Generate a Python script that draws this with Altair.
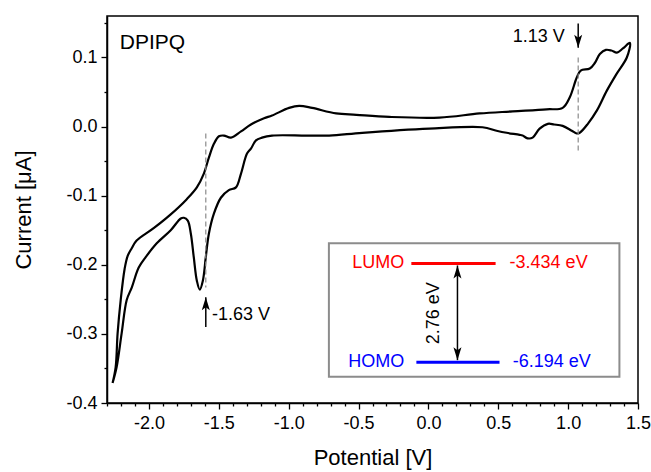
import altair as alt
import pandas as pd

FONT = "Liberation Sans"

# Forward scan: from the cathodic tip up to the anodic tip (potential in V, current in uA)
fwd_v = [-2.260, -2.238, -2.224, -2.202, -2.174, -2.152, -2.123, -2.088, -1.966, -1.844,
         -1.729, -1.657, -1.607, -1.571, -1.535, -1.499, -1.463, -1.413, -1.341, -1.270,
         -1.176, -1.119, -0.997, -0.925, -0.832, -0.660, -0.516, -0.280, 0.079, 0.366,
         0.603, 0.846, 0.961, 1.011, 1.062, 1.090, 1.155, 1.191, 1.227, 1.270,
         1.310, 1.349, 1.392, 1.442]
fwd_i = [-0.371, -0.348, -0.299, -0.251, -0.206, -0.187, -0.176, -0.165, -0.147, -0.127,
         -0.105, -0.088, -0.068, -0.045, -0.025, -0.014, -0.013, -0.016, -0.007, 0.003,
         0.012, 0.016, 0.027, 0.030, 0.027, 0.019, 0.017, 0.014, 0.013, 0.019,
         0.022, 0.025, 0.027, 0.042, 0.071, 0.081, 0.084, 0.092, 0.105, 0.111,
         0.110, 0.107, 0.113, 0.121]

# Reverse scan: back from the anodic tip to the cathodic tip
rev_v = [1.420, 1.349, 1.277, 1.205, 1.141, 1.083, 1.062, 1.026, 0.961, 0.900,
         0.855, 0.796, 0.746, 0.710, 0.674, 0.653, 0.560, 0.488, 0.387, 0.007,
         -0.473, -0.710, -0.875, -1.119, -1.191, -1.234, -1.270, -1.298, -1.341, -1.377,
         -1.428, -1.485, -1.535, -1.571, -1.593, -1.614, -1.636, -1.657, -1.679, -1.700,
         -1.722, -1.750, -1.772, -1.844, -1.944, -2.023, -2.073, -2.123, -2.159, -2.195,
         -2.231, -2.260]
rev_i = [0.100, 0.077, 0.052, 0.023, 0.004, -0.009, -0.010, -0.006, 0.001, 0.003,
         0.004, -0.003, -0.016, -0.017, -0.013, -0.012, -0.009, -0.006, -0.001, -0.003,
         -0.009, -0.013, -0.013, -0.013, -0.016, -0.020, -0.032, -0.039, -0.068, -0.088,
         -0.092, -0.103, -0.126, -0.155, -0.189, -0.223, -0.236, -0.223, -0.189, -0.155,
         -0.136, -0.132, -0.133, -0.150, -0.169, -0.189, -0.204, -0.233, -0.251, -0.299,
         -0.348, -0.371]

# Onset markers: (potential of the dashed guide, top, bottom)
onset_v = [-1.593, 1.072]
onset_top = [-0.010, 0.100]
onset_bottom = [-0.233, -0.035]
onset_labels = ["-1.63 V", "1.13 V"]

# Energy levels in the inset
level_names = ["LUMO", "HOMO"]
level_values = ["-3.434 eV", "-6.194 eV"]
level_colors = ["#ff0000", "#0000ff"]
gap_label = "2.76 eV"

X_DOMAIN = [-2.3, 1.5]
Y_DOMAIN = [-0.4, 0.16]

x_ticks = [round(-2.3 + 0.1 * k, 1) for k in range(39)]
y_ticks = [round(-0.4 + 0.05 * k, 2) for k in range(12)]

x_major = "abs(datum.value*2 - round(datum.value*2)) < 1e-6"
y_major = "abs(datum.value*10 - round(datum.value*10)) < 1e-6"

x_axis = alt.Axis(
    values=x_ticks,
    labelExpr=f"{x_major} ? replace(format(datum.value, '.1f'), '\u2212', '-') : ''",
    tickSize={"condition": {"test": x_major, "value": 6}, "value": 3},
    labelOverlap=False, labelFlush=False, grid=False,
    labelFontSize=18, titleFontSize=22, titlePadding=15, labelPadding=5,
    title="Potential [V]",
)
y_axis = alt.Axis(
    values=y_ticks,
    labelExpr=f"{y_major} ? replace(format(datum.value, '.1f'), '\u2212', '-') : ''",
    tickSize={"condition": {"test": y_major, "value": 6}, "value": 3},
    labelOverlap=False, labelFlush=False, grid=False,
    labelFontSize=18, titleFontSize=22, titlePadding=30, labelPadding=4,
    title="Current [\u03bcA]",
)

xs = alt.Scale(domain=X_DOMAIN, nice=False, zero=False)
ys = alt.Scale(domain=Y_DOMAIN, nice=False, zero=False)


def X(f):
    return alt.X(f, type="quantitative", scale=xs, axis=x_axis)


def Y(f):
    return alt.Y(f, type="quantitative", scale=ys, axis=y_axis)


n_f = len(fwd_v)
cv = pd.DataFrame({
    "x": fwd_v + rev_v,
    "y": fwd_i + rev_i,
    "k": list(range(n_f + len(rev_v))),
})

curve = alt.Chart(cv).mark_line(
    color="black", strokeWidth=2.2, interpolate="catmull-rom"
).encode(x=X("x"), y=Y("y"), order=alt.Order("k:Q"))

guides = pd.DataFrame({"x": onset_v, "y": onset_top, "y2": onset_bottom})
guide_lines = alt.Chart(guides).mark_rule(
    color="#8a8a8a", strokeWidth=1.2, strokeDash=[5, 3]
).encode(x=X("x"), y=Y("y"), y2="y2")

# Arrows pointing at the onset potentials
arrows = pd.DataFrame({
    "x": [onset_v[0], onset_v[1]],
    "tail": [-0.290, 0.149],
    "tip": [-0.247, 0.114],
})
arrow_shafts = alt.Chart(arrows).mark_rule(color="black", strokeWidth=1.5).encode(
    x=X("x"), y=Y("tail"), y2="tip"
)
UP_HEAD = "M0,0 L0.8,2.6 L0,2.0 L-0.8,2.6 Z"
DOWN_HEAD = "M0,0 L0.8,-2.6 L0,-2.0 L-0.8,-2.6 Z"

labels = pd.DataFrame({
    "x": [-1.549, 0.976],
    "y": [-0.273, 0.129],
    "t": onset_labels,
})
onset_text_l = alt.Chart(labels.iloc[[0]]).mark_text(
    align="left", baseline="middle", fontSize=18, font=FONT, color="black"
).encode(x=X("x"), y=Y("y"), text="t:N")
onset_text_r = alt.Chart(labels.iloc[[1]]).mark_text(
    align="right", baseline="middle", fontSize=18, font=FONT, color="black"
).encode(x=X("x"), y=Y("y"), text="t:N")

name_df = pd.DataFrame({"x": [-2.209], "y": [0.121], "t": ["DPIPQ"]})
name_text = alt.Chart(name_df).mark_text(
    align="left", baseline="middle", fontSize=21, font=FONT, color="black"
).encode(x=X("x"), y=Y("y"), text="t:N")

# Inset with the frontier orbital energies
box = pd.DataFrame({"x": [-0.712], "x2": [1.367], "y": [-0.169], "y2": [-0.362]})
inset_box = alt.Chart(box).mark_rect(
    fill="white", stroke="#8c8c8c", strokeWidth=2
).encode(x=X("x"), x2="x2", y=Y("y"), y2="y2")

levels = pd.DataFrame({
    "x": [-0.122, -0.086],
    "x2": [0.481, 0.509],
    "y": [-0.198, -0.341],
    "c": level_colors,
    "name": level_names,
    "val": level_values,
    "nx": [-0.172, -0.172],
    "vx": [0.581, 0.603],
})
level_lines = alt.Chart(levels).mark_rule(strokeWidth=3).encode(
    x=X("x"), x2="x2", y=Y("y"), color=alt.Color("c:N", scale=None)
)
level_names_text = alt.Chart(levels).mark_text(
    align="right", baseline="middle", fontSize=18, font=FONT
).encode(x=X("nx"), y=Y("y"), text="name:N", color=alt.Color("c:N", scale=None))
level_values_text = alt.Chart(levels).mark_text(
    align="left", baseline="middle", fontSize=18, font=FONT
).encode(x=X("vx"), y=Y("y"), text="val:N", color=alt.Color("c:N", scale=None))

gap = pd.DataFrame({"x": [0.208], "top": [-0.201], "bottom": [-0.338]})
gap_shaft = alt.Chart(gap).mark_rule(color="black", strokeWidth=1.5).encode(
    x=X("x"), y=Y("top"), y2="bottom"
)
gap_up = alt.Chart(gap).mark_point(
    shape=UP_HEAD, filled=True, color="black", size=100, opacity=1
).encode(x=X("x"), y=Y("top"))
gap_down = alt.Chart(gap).mark_point(
    shape=DOWN_HEAD, filled=True, color="black", size=100, opacity=1
).encode(x=X("x"), y=Y("bottom"))
gap_df = pd.DataFrame({"x": [0.043], "y": [-0.270], "t": [gap_label]})
gap_text = alt.Chart(gap_df).mark_text(
    align="center", baseline="middle", fontSize=18, font=FONT, angle=270, color="black"
).encode(x=X("x"), y=Y("y"), text="t:N")

onset_up = alt.Chart(arrows.iloc[[0]]).mark_point(
    shape=UP_HEAD, filled=True, color="black", size=100, opacity=1
).encode(x=X("x"), y=Y("tip"))
onset_down = alt.Chart(arrows.iloc[[1]]).mark_point(
    shape=DOWN_HEAD, filled=True, color="black", size=100, opacity=1
).encode(x=X("x"), y=Y("tip"))

chart = alt.layer(
    curve, guide_lines, arrow_shafts, onset_up, onset_down, onset_text_l, onset_text_r,
    name_text, inset_box, level_lines, level_names_text, level_values_text,
    gap_shaft, gap_up, gap_down, gap_text,
).properties(
    width=531, height=387,
    autosize=alt.AutoSizeParams(type="none"),
    padding={"left": 107, "top": 16, "right": 13, "bottom": 69},
    background="white",
).configure_view(
    stroke="black", strokeWidth=1.5
).configure_axis(
    domainColor="black", domainWidth=1.5, tickColor="black", tickWidth=1.3,
    labelColor="black", titleColor="black", labelFont=FONT, titleFont=FONT,
    titleFontWeight="normal",
)

chart.save("out.html", embed_options={"renderer": "svg", "actions": False})
